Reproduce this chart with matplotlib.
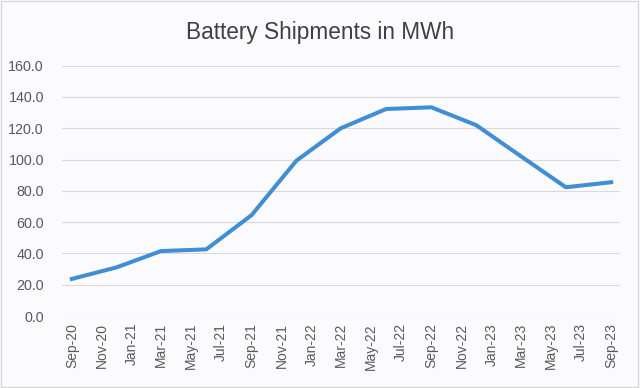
import pandas as pd
import matplotlib
matplotlib.use('Agg')
import matplotlib.pyplot as plt
import matplotlib.dates as mdates

# quarterly shipments
quarters = ['2020-09-01', '2020-12-01', '2021-03-01', '2021-06-01', '2021-09-01',
            '2021-12-01', '2022-03-01', '2022-06-01', '2022-09-01', '2022-12-01',
            '2023-03-01', '2023-06-01', '2023-09-01']
shipments_mwh = [23.7, 31.1, 41.5, 42.6, 64.5, 99.3, 120.0, 132.3, 133.4, 122.0,
                 102.3, 82.3, 85.5]
title = 'Battery Shipments in MWh'

dates = pd.to_datetime(quarters)

plt.rcParams['font.family'] = ['Liberation Sans', 'DejaVu Sans']

fig = plt.figure(figsize=(6.4, 3.88), dpi=100, facecolor='#fbfbfd')
ax = fig.add_axes([62 / 640, 72 / 388, 558 / 640, 250.3 / 388])
ax.set_facecolor('#fbfbfd')

ax.plot(dates, shipments_mwh, color='#3f8ed6', linewidth=2.9, solid_joinstyle='round')

ax.set_ylim(0, 160)
ax.set_yticks(range(0, 161, 20))
ax.yaxis.set_major_formatter(matplotlib.ticker.FormatStrFormatter('%.1f'))
ax.set_xlim(pd.Timestamp('2020-08-12'), pd.Timestamp('2023-09-19'))
ax.xaxis.set_major_locator(mdates.MonthLocator(bymonth=[1, 3, 5, 7, 9, 11]))
ax.xaxis.set_major_formatter(mdates.DateFormatter('%b-%y'))

ax.grid(axis='y', color='#d9d9d9', linewidth=0.8)
ax.set_axisbelow(True)
for s in ax.spines.values():
    s.set_visible(False)
ax.tick_params(axis='both', length=0, colors='#595959', labelsize=10.3)
ax.tick_params(axis='y', pad=13)
ax.tick_params(axis='x', pad=5, labelsize=10)
plt.setp(ax.get_xticklabels(), rotation=90)

fig.text(0.5, 1 - 33 / 388, title, ha='center', va='center', fontsize=16.3, color='#404040')

# light frame around the chart area
fig.patches.append(plt.Rectangle((0.002, 0.003), 0.995, 0.994, transform=fig.transFigure,
                                 fill=False, edgecolor='#d9d9d9', linewidth=1))

fig.savefig('out.png', dpi=100, facecolor=fig.get_facecolor())
